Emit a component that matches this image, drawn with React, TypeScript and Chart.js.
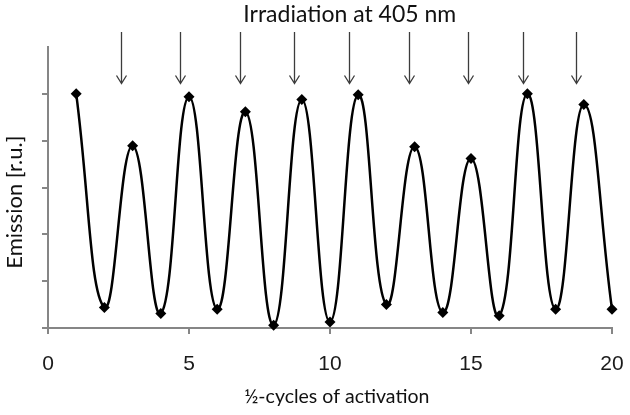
import React, { useEffect, useRef } from "react";
import { Chart, registerables } from "chart.js";

Chart.register(...registerables);

const cycles = [1, 2, 3, 4, 5, 6, 7, 8, 9, 10, 11, 12, 13, 14, 15, 16, 17, 18, 19, 20];
const emission = [5.0, 0.44, 3.89, 0.31, 4.94, 0.4, 4.62, 0.06, 4.88, 0.13, 4.98, 0.5, 3.87, 0.33, 3.62, 0.26, 5.0, 0.4, 4.77, 0.4];
const arrowX = [2.58, 4.69, 6.82, 8.72, 10.68, 12.79, 14.91, 16.85, 18.74];
const arrowTop = 6.32;
const arrowBottom = 5.22;
const xTicks = [0, 5, 10, 15, 20];
const titleText = "Irradiation at 405 nm";
const xTitle = "½-cycles of activation";
const yTitle = "Emission [r.u.]";

const AXIS = "#868686";

const annotate = {
  id: "annotate",
  afterDraw(chart: any) {
    const { ctx, scales, chartArea } = chart;
    const xs = scales.x;
    const ys = scales.y;
    ctx.save();
    ctx.strokeStyle = "#3c3c3c";
    ctx.lineWidth = 1.3;
    const yT = ys.getPixelForValue(arrowTop);
    const yB = ys.getPixelForValue(arrowBottom);
    arrowX.forEach((v) => {
      const px = Math.round(xs.getPixelForValue(v)) + 0.5;
      ctx.beginPath();
      ctx.moveTo(px, yT);
      ctx.lineTo(px, yB);
      ctx.moveTo(px - 5, yB - 8);
      ctx.lineTo(px, yB);
      ctx.lineTo(px + 5, yB - 8);
      ctx.stroke();
    });
    ctx.fillStyle = "#111";
    ctx.textAlign = "center";
    ctx.textBaseline = "middle";
    ctx.font = "23px Lato";
    ctx.fillText(titleText, chartArea.left + (chartArea.right - chartArea.left) * 0.535, 15);
    ctx.font = "19.5px Lato";
    ctx.fillText(xTitle, chartArea.left + (chartArea.right - chartArea.left) * 0.512, 397);
    ctx.save();
    ctx.font = "22px Lato";
    ctx.translate(15, chartArea.top + (chartArea.bottom - chartArea.top) * 0.552);
    ctx.rotate(-Math.PI / 2);
    ctx.fillText(yTitle, 0, 0);
    ctx.restore();
    ctx.restore();
  },
};

export default function App() {
  const ref = useRef<HTMLCanvasElement>(null);
  useEffect(() => {
    if (!ref.current) return;
    const chart = new Chart(ref.current, {
      type: "line",
      data: {
        datasets: [
          {
            data: cycles.map((c, i) => ({ x: c, y: emission[i] })),
            borderColor: "#000",
            backgroundColor: "#000",
            borderWidth: 2.5,
            tension: 0.45,
            pointStyle: "rectRot",
            pointRadius: 5.5,
            pointBackgroundColor: "#000",
            pointBorderColor: "#000",
            pointBorderWidth: 0,
            clip: false as any,
          },
        ],
      },
      options: {
        animation: false,
        responsive: true,
        maintainAspectRatio: false,
        layout: { padding: { top: 47, right: 18, left: 0, bottom: 0 } },
        plugins: { legend: { display: false }, tooltip: { enabled: false }, title: { display: false } },
        scales: {
          x: {
            type: "linear",
            min: 0,
            max: 20,
            afterBuildTicks: (s: any) => {
              s.ticks = xTicks.map((v) => ({ value: v }));
            },
            afterFit: (s: any) => {
              s.height = 87;
              s.paddingLeft = 0;
              s.paddingRight = 0;
            },
            ticks: {
              color: "#1a1a1a",
              font: { family: "Liberation Sans", size: 21 },
              padding: 18,
              maxRotation: 0,
            },
            grid: { drawOnChartArea: false, drawTicks: true, tickLength: 6, color: AXIS, lineWidth: 2 },
            border: { color: AXIS, width: 2 },
          },
          y: {
            type: "linear",
            min: 0,
            max: 6,
            afterFit: (s: any) => {
              s.width = 48;
              s.paddingTop = 0;
              s.paddingBottom = 0;
            },
            ticks: { display: false, stepSize: 1 },
            grid: {
              drawOnChartArea: false,
              drawTicks: true,
              tickLength: 6,
              lineWidth: 2,
              color: (c: any) => (c.tick && c.tick.value === 6 ? "rgba(0,0,0,0)" : AXIS),
            },
            border: { color: AXIS, width: 2 },
          },
        },
      },
      plugins: [annotate],
    });
    return () => chart.destroy();
  }, []);
  return (
    <div style={{ position: "fixed", left: 0, top: 0, width: 630, height: 415, background: "#fff" }}>
      <canvas ref={ref} />
    </div>
  );
}
